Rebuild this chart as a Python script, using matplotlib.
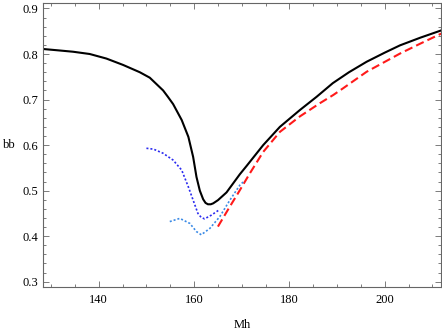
import matplotlib
matplotlib.use('Agg')
import matplotlib.pyplot as plt
from matplotlib.ticker import MultipleLocator, FormatStrFormatter

# black solid curve
mh_black = [128.3, 131.5, 134.6, 138.1, 141.6, 145.1, 148.6, 150.7, 152.1, 153.5, 154.5,
            155.6, 157.4, 158.8, 159.8, 160.5, 161.2, 161.9, 162.4, 162.9, 163.5, 164.0,
            165.0, 166.8, 169.6, 171, 174.5, 178, 182.2, 185.7, 189.1, 192.5, 196.2, 200,
            203.2, 207.5, 211.9]
bb_black = [0.811, 0.808, 0.805, 0.800, 0.790, 0.776, 0.760, 0.748, 0.734, 0.720, 0.706,
            0.690, 0.655, 0.618, 0.574, 0.530, 0.500, 0.481, 0.473, 0.470, 0.470, 0.472,
            0.479, 0.496, 0.536, 0.554, 0.600, 0.640, 0.677, 0.706, 0.736, 0.760, 0.783, 0.803,
            0.819, 0.836, 0.852]

# red dashed curve
mh_red = [165, 167.5, 169.2, 171.7, 174.5, 178, 182.2, 186.4, 189.2, 191.3, 196.2, 203.2, 207.5, 211.9]
bb_red = [0.421, 0.465, 0.494, 0.538, 0.585, 0.629, 0.663, 0.692, 0.710, 0.725, 0.761, 0.801, 0.823, 0.845]

# dark blue dotted
mh_blue = [150, 151.5, 153.5, 155.6, 157.4, 158.8, 159.8, 160.8, 161.5, 162.2, 163.6, 165.3]
bb_blue = [0.593, 0.591, 0.582, 0.567, 0.545, 0.508, 0.479, 0.450, 0.441, 0.438, 0.446, 0.458]

# light blue dotted
mh_lblue = [154.9, 157, 159.1, 160.5, 161.5, 163.3, 165.4, 167.5, 169.6, 170.3]
bb_lblue = [0.432, 0.439, 0.428, 0.410, 0.403, 0.417, 0.443, 0.479, 0.512, 0.519]

plt.rcParams['font.family'] = ['Liberation Serif', 'DejaVu Serif']

fig = plt.figure(figsize=(4.42, 3.3), dpi=100)
ax = fig.add_axes([43/442, 43.3/330, 398/442, 283.7/330])

ax.plot(mh_black, bb_black, color='black', lw=1.5)
ax.plot(mh_red, bb_red, color='#ff1a1a', lw=1.5, linestyle=(0, (4, 2)))
ax.plot(mh_blue, bb_blue, color='#2a2af0', lw=1.2, linestyle=(0, (1.2, 1.2)))
ax.plot(mh_lblue, bb_lblue, color='#3a8ae6', lw=1.2, linestyle=(0, (1.2, 1.2)))

ax.set_xlim(128.3, 211.8)
ax.set_ylim(0.289, 0.912)
ax.xaxis.set_major_locator(MultipleLocator(20))
ax.xaxis.set_minor_locator(MultipleLocator(5))
ax.yaxis.set_major_locator(MultipleLocator(0.1))
ax.yaxis.set_minor_locator(MultipleLocator(0.02))
ax.yaxis.set_major_formatter(FormatStrFormatter('%.1f'))

for s in ax.spines.values():
    s.set_color('#666666')
    s.set_linewidth(0.8)
ax.tick_params(which='both', direction='in', top=True, right=True, color='#666666',
               labelsize=9, width=0.6)
ax.tick_params(which='major', length=4)
ax.tick_params(which='minor', length=2)
ax.tick_params(axis='x', pad=5.5)

ax.set_xlabel('Mh', fontsize=9, labelpad=9)
ax.set_ylabel('bb', fontsize=9, rotation=0, labelpad=9, va='center')

fig.savefig('out.png', dpi=100)
